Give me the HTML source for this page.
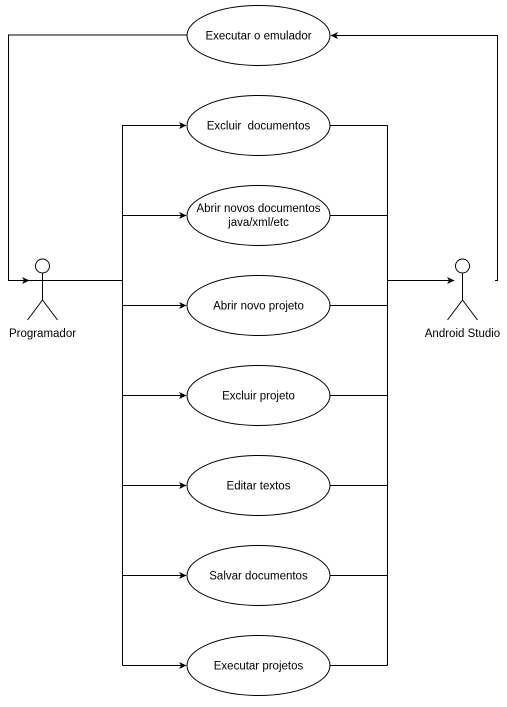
<!DOCTYPE html><html><head><style>body{margin:0;background:#fff}svg text{font-family:"Liberation Sans",Arial,sans-serif;font-size:11.5px;fill:#000}</style></head><body>
<svg width="507" height="702" viewBox="0 0 507 702" xmlns="http://www.w3.org/2000/svg">
<defs><marker id="a" markerWidth="8" markerHeight="8" refX="7" refY="4" orient="auto" markerUnits="userSpaceOnUse"><path d="M0,0.5 L7.5,4 L0,7.5 L2,4 Z" fill="#000"/></marker></defs>
<g fill="none" stroke="#000" stroke-width="1">
<path d="M187,35 H8.5 V280.5 H29" marker-end="url(#a)"/>
<path d="M29,280.5 H122.5"/>
<path d="M495,280.5 H497.5 V35.5 H331" marker-end="url(#a)"/>
<path d="M387.5,280.5 H454" marker-end="url(#a)"/>
<path d="M122.5,125 V665.5 M387.5,125.5 V665.5"/>
<g marker-end="url(#a)">
<path d="M122.5,125.5 H186"/><path d="M122.5,215.5 H186"/><path d="M122.5,305.5 H186"/><path d="M122.5,395.5 H186"/><path d="M122.5,485.5 H186"/><path d="M122.5,575.5 H186"/><path d="M122.5,665.5 H186"/>
</g>
<path d="M329,125.5 H387.5 M329,215.5 H387.5 M329,305.5 H387.5 M329,395.5 H387.5 M329,485.5 H387.5 M329,575.5 H387.5 M329,665.5 H387.5"/>
<g fill="#fff">
<ellipse cx="258.5" cy="35.5" rx="71.5" ry="30"/>
<ellipse cx="258.5" cy="125.5" rx="71.5" ry="30"/>
<ellipse cx="258.5" cy="215.5" rx="71.5" ry="30"/>
<ellipse cx="258.5" cy="305.5" rx="71.5" ry="30"/>
<ellipse cx="258.5" cy="395.5" rx="71.5" ry="30"/>
<ellipse cx="258.5" cy="485.5" rx="71.5" ry="30"/>
<ellipse cx="258.5" cy="575.5" rx="71.5" ry="30"/>
<ellipse cx="258.5" cy="665.5" rx="71.5" ry="30"/>
<circle cx="42.5" cy="266" r="7"/><circle cx="462.5" cy="266" r="7"/>
</g>
<path d="M42.5,273 V300 L27.5,320 M42.5,300 L57.5,320 M462.5,273 V300 L447.5,320 M462.5,300 L477.5,320"/>
</g>
<g text-anchor="middle">
<text x="258.5" y="39.5">Executar o emulador</text>
<text x="258.5" y="129.5">Excluir &#160;documentos</text>
<text x="258.5" y="212">Abrir novos documentos</text>
<text x="258.5" y="226">java/xml/etc</text>
<text x="258.5" y="309.5">Abrir novo projeto</text>
<text x="258.5" y="399.5">Excluir projeto</text>
<text x="258.5" y="489.5">Editar textos</text>
<text x="258.5" y="579.5">Salvar documentos</text>
<text x="258.5" y="669.5">Executar projetos</text>
<text x="42.5" y="337">Programador</text>
<text x="462.5" y="337">Android Studio</text>
</g>
</svg></body></html>
